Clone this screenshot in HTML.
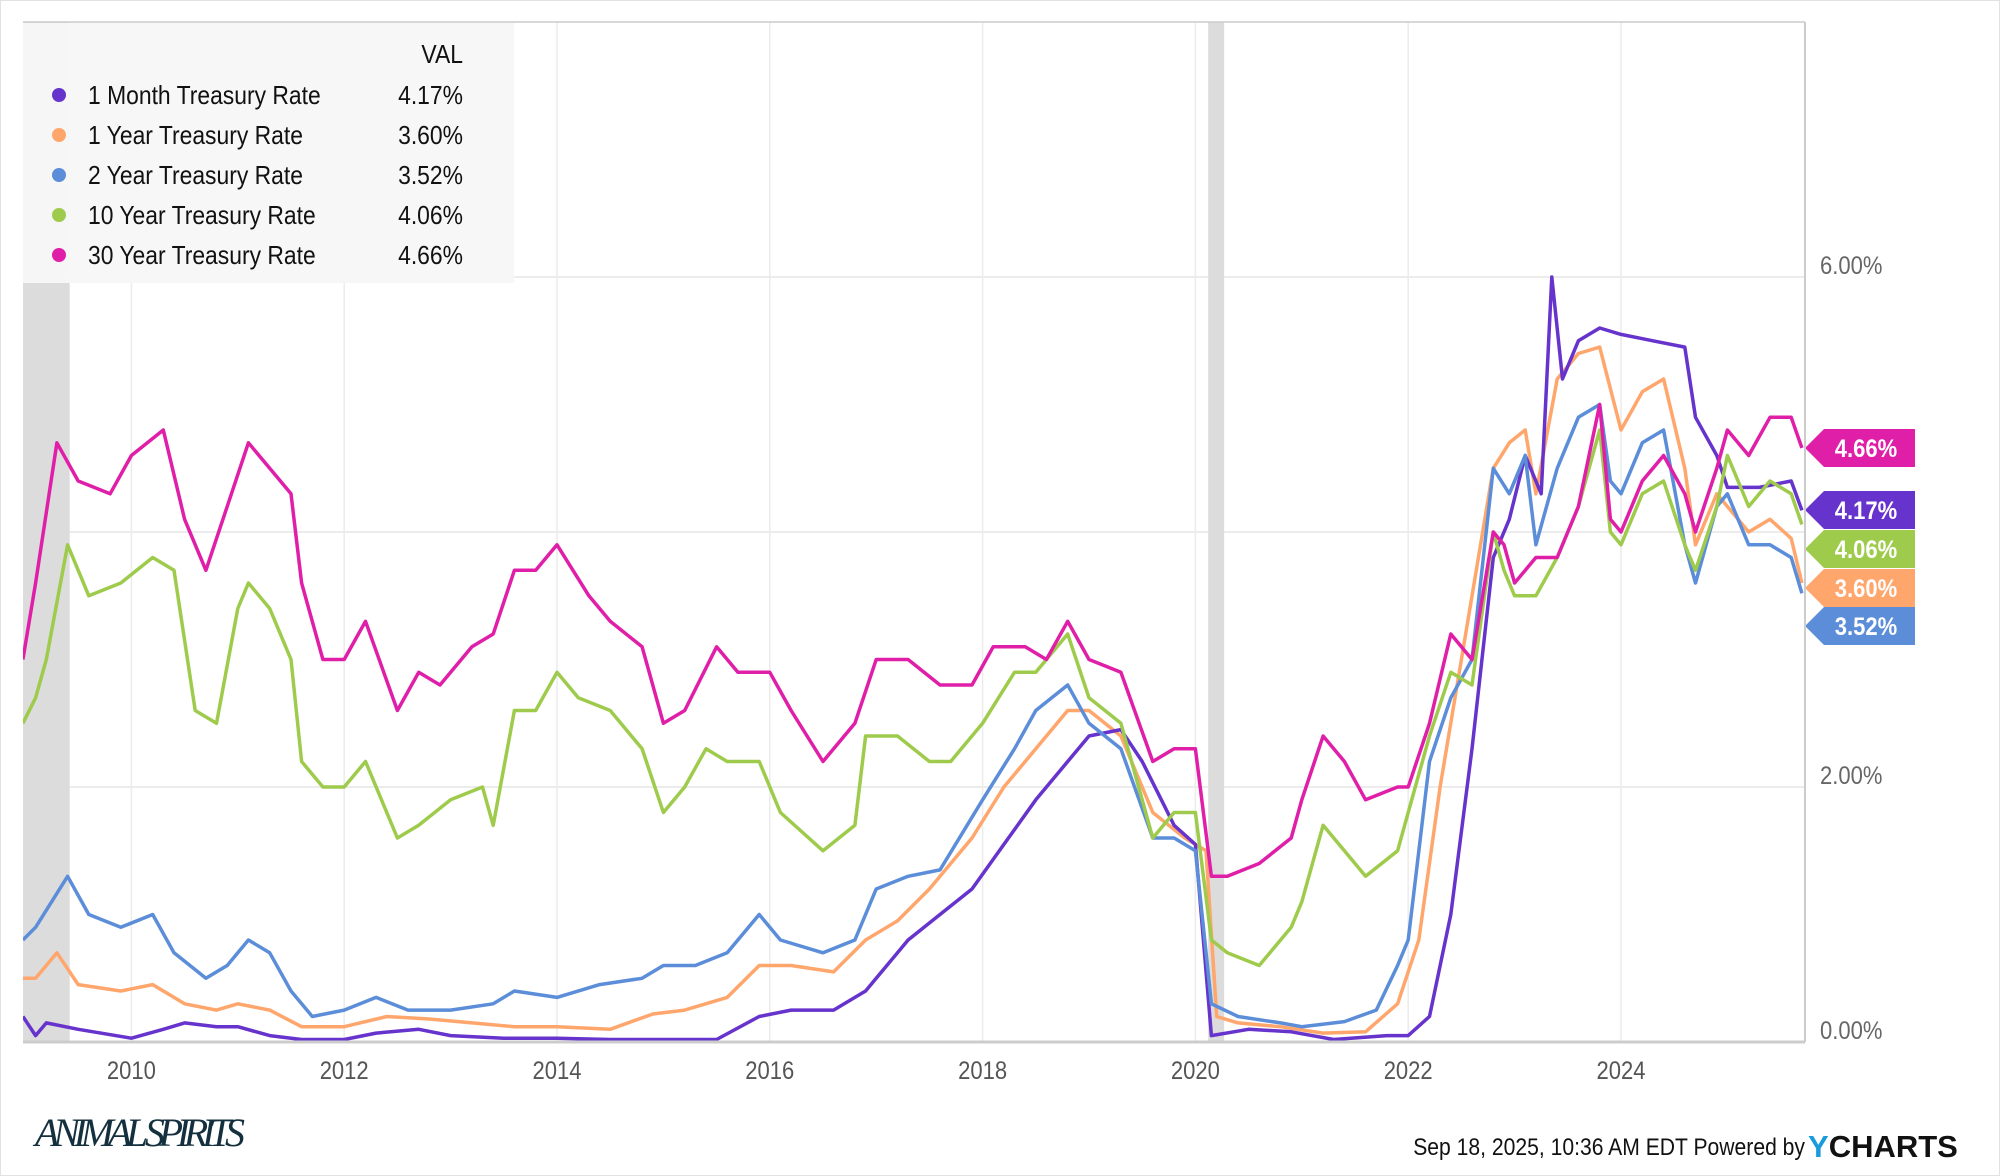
<!DOCTYPE html>
<html><head><meta charset="utf-8"><style>
body{margin:0;background:#fff}
svg{display:block;font-family:"Liberation Sans",sans-serif}
</style></head><body>
<svg id="c" width="2000" height="1176">
<defs><clipPath id="pc"><rect x="23" y="22" width="1782" height="1020"/></clipPath></defs>
<rect x="0.5" y="0.5" width="1999" height="1175" fill="#fff" stroke="#e2e2e2"/>
<g id="grid"></g>
<g id="rec"></g>
<g id="lines" clip-path="url(#pc)"></g>
<g id="legend"></g>
<g id="tags"></g>
<g id="axes"></g>
<text x="35" y="1146" font-size="40" font-style="italic" fill="#14303f" font-family="'Liberation Serif',serif" textLength="210">ANIMAL SPIRITS</text>
<text class="nar" x="1805" y="1155" font-size="24" fill="#111" text-anchor="end">Sep 18, 2025, 10:36 AM EDT Powered by</text>
<text x="1808" y="1157" font-size="31" font-weight="bold" fill="#111"><tspan fill="#1a9bdb">Y</tspan>CHARTS</text>
</svg>
<script>
const yearTicks=[2010,2012,2014,2016,2018,2020,2022,2024];
const yTicks=[0,2,4,6];
const seriesNames=["1 Month Treasury Rate","1 Year Treasury Rate","2 Year Treasury Rate","10 Year Treasury Rate","30 Year Treasury Rate"];
const seriesColors=["#6633cc","#ffa66d","#5b8dd9","#9fcb4d","#e01fa8"];
const lastValues=[4.17,3.60,3.52,4.06,4.66];
const recessions=[[2008.98,2009.42],[2020.12,2020.27]];
const m1T=[2008.98,2009.1,2009.2,2009.5,2010.0,2010.3,2010.5,2010.8,2011.0,2011.3,2011.6,2012.0,2012.3,2012.7,2013.0,2013.5,2014.0,2014.5,2015.0,2015.5,2015.9,2016.2,2016.6,2016.9,2017.0,2017.3,2017.6,2017.9,2018.2,2018.5,2018.8,2019.0,2019.3,2019.5,2019.8,2020.0,2020.15,2020.5,2020.9,2021.3,2021.8,2022.0,2022.2,2022.4,2022.6,2022.8,2022.95,2023.1,2023.25,2023.35,2023.45,2023.6,2023.8,2024.0,2024.3,2024.6,2024.7,2024.9,2025.0,2025.3,2025.6,2025.7];
const m1V=[0.2,0.05,0.15,0.1,0.03,0.1,0.15,0.12,0.12,0.05,0.02,0.02,0.07,0.1,0.05,0.03,0.03,0.02,0.02,0.02,0.2,0.25,0.25,0.4,0.5,0.8,1.0,1.2,1.55,1.9,2.2,2.4,2.45,2.2,1.7,1.55,0.05,0.1,0.08,0.02,0.05,0.05,0.2,1.0,2.3,3.8,4.1,4.6,4.3,6.0,5.2,5.5,5.6,5.55,5.5,5.45,4.9,4.6,4.35,4.35,4.4,4.17];
const y1T=[2008.98,2009.1,2009.3,2009.5,2009.9,2010.2,2010.5,2010.8,2011.0,2011.3,2011.6,2012.0,2012.4,2012.8,2013.2,2013.6,2014.0,2014.5,2014.9,2015.2,2015.6,2015.9,2016.2,2016.6,2016.9,2017.2,2017.5,2017.9,2018.2,2018.5,2018.8,2019.0,2019.3,2019.6,2019.9,2020.1,2020.2,2020.4,2020.8,2021.2,2021.6,2021.9,2022.1,2022.3,2022.5,2022.8,2022.95,2023.1,2023.2,2023.4,2023.6,2023.8,2024.0,2024.2,2024.4,2024.6,2024.7,2024.9,2025.0,2025.2,2025.4,2025.6,2025.7];
const y1V=[0.5,0.5,0.7,0.45,0.4,0.45,0.3,0.25,0.3,0.25,0.12,0.12,0.2,0.18,0.15,0.12,0.12,0.1,0.22,0.25,0.35,0.6,0.6,0.55,0.8,0.95,1.2,1.6,2.0,2.3,2.6,2.6,2.4,1.8,1.6,1.5,0.2,0.15,0.12,0.07,0.08,0.3,0.8,2.0,3.0,4.5,4.7,4.8,4.3,5.2,5.4,5.45,4.8,5.1,5.2,4.5,3.9,4.3,4.2,4.0,4.1,3.95,3.60];
const y2T=[2008.98,2009.1,2009.4,2009.6,2009.9,2010.2,2010.4,2010.7,2010.9,2011.1,2011.3,2011.5,2011.7,2012.0,2012.3,2012.6,2013.0,2013.4,2013.6,2014.0,2014.4,2014.8,2015.0,2015.3,2015.6,2015.9,2016.1,2016.5,2016.8,2017.0,2017.3,2017.6,2018.0,2018.3,2018.5,2018.8,2019.0,2019.3,2019.6,2019.8,2020.0,2020.15,2020.4,2020.8,2021.0,2021.4,2021.7,2021.9,2022.0,2022.2,2022.4,2022.6,2022.8,2022.95,2023.1,2023.2,2023.4,2023.6,2023.8,2023.9,2024.0,2024.2,2024.4,2024.6,2024.7,2024.9,2025.0,2025.2,2025.4,2025.6,2025.7];
const y2V=[0.8,0.9,1.3,1.0,0.9,1.0,0.7,0.5,0.6,0.8,0.7,0.4,0.2,0.25,0.35,0.25,0.25,0.3,0.4,0.35,0.45,0.5,0.6,0.6,0.7,1.0,0.8,0.7,0.8,1.2,1.3,1.35,1.9,2.3,2.6,2.8,2.5,2.3,1.6,1.6,1.5,0.3,0.2,0.15,0.12,0.16,0.25,0.6,0.8,2.2,2.7,3.0,4.5,4.3,4.6,3.9,4.5,4.9,5.0,4.4,4.3,4.7,4.8,3.9,3.6,4.2,4.3,3.9,3.9,3.8,3.52];
const y10T=[2008.98,2009.1,2009.2,2009.4,2009.6,2009.9,2010.2,2010.4,2010.6,2010.8,2011.0,2011.1,2011.3,2011.5,2011.6,2011.8,2012.0,2012.2,2012.5,2012.7,2013.0,2013.3,2013.4,2013.6,2013.8,2014.0,2014.2,2014.5,2014.8,2015.0,2015.2,2015.4,2015.6,2015.9,2016.1,2016.5,2016.8,2016.9,2017.2,2017.5,2017.7,2018.0,2018.3,2018.5,2018.8,2019.0,2019.3,2019.6,2019.8,2020.0,2020.15,2020.3,2020.6,2020.9,2021.0,2021.2,2021.4,2021.6,2021.9,2022.0,2022.2,2022.4,2022.6,2022.8,2022.9,2023.0,2023.2,2023.4,2023.6,2023.8,2023.9,2024.0,2024.2,2024.4,2024.6,2024.7,2024.9,2025.0,2025.2,2025.4,2025.6,2025.7];
const y10V=[2.5,2.7,3.0,3.9,3.5,3.6,3.8,3.7,2.6,2.5,3.4,3.6,3.4,3.0,2.2,2.0,2.0,2.2,1.6,1.7,1.9,2.0,1.7,2.6,2.6,2.9,2.7,2.6,2.3,1.8,2.0,2.3,2.2,2.2,1.8,1.5,1.7,2.4,2.4,2.2,2.2,2.5,2.9,2.9,3.2,2.7,2.5,1.6,1.8,1.8,0.8,0.7,0.6,0.9,1.1,1.7,1.5,1.3,1.5,1.8,2.4,2.9,2.8,4.0,3.7,3.5,3.5,3.8,4.2,4.8,4.0,3.9,4.3,4.4,3.9,3.7,4.2,4.6,4.2,4.4,4.3,4.06];
const y30T=[2008.98,2009.1,2009.3,2009.5,2009.8,2010.0,2010.3,2010.5,2010.7,2010.9,2011.1,2011.3,2011.5,2011.6,2011.8,2012.0,2012.2,2012.5,2012.7,2012.9,2013.2,2013.4,2013.6,2013.8,2014.0,2014.3,2014.5,2014.8,2015.0,2015.2,2015.5,2015.7,2016.0,2016.2,2016.5,2016.8,2017.0,2017.3,2017.6,2017.9,2018.1,2018.4,2018.6,2018.8,2019.0,2019.3,2019.6,2019.8,2020.0,2020.15,2020.3,2020.6,2020.9,2021.0,2021.2,2021.4,2021.6,2021.9,2022.0,2022.2,2022.4,2022.6,2022.8,2022.9,2023.0,2023.2,2023.4,2023.6,2023.8,2023.9,2024.0,2024.2,2024.4,2024.6,2024.7,2024.9,2025.0,2025.2,2025.4,2025.6,2025.7];
const y30V=[3.0,3.6,4.7,4.4,4.3,4.6,4.8,4.1,3.7,4.2,4.7,4.5,4.3,3.6,3.0,3.0,3.3,2.6,2.9,2.8,3.1,3.2,3.7,3.7,3.9,3.5,3.3,3.1,2.5,2.6,3.1,2.9,2.9,2.6,2.2,2.5,3.0,3.0,2.8,2.8,3.1,3.1,3.0,3.3,3.0,2.9,2.2,2.3,2.3,1.3,1.3,1.4,1.6,1.9,2.4,2.2,1.9,2.0,2.0,2.5,3.2,3.0,4.0,3.9,3.6,3.8,3.8,4.2,5.0,4.1,4.0,4.4,4.6,4.3,4.0,4.5,4.8,4.6,4.9,4.9,4.66];
const allT=[m1T,y1T,y2T,y10T,y30T], allV=[m1V,y1V,y2V,y10V,y30V];
const L=23,R=1805,T=22,B=1042;
const X=t=>131.4+(t-2010)*106.4;
const Y=v=>B-v*127.5;
const NS="http://www.w3.org/2000/svg";
function mk(p,tag,a){const e=document.createElementNS(NS,tag);for(const k in a)e.setAttribute(k,a[k]);p.appendChild(e);return e;}
const grid=document.getElementById('grid'),rec=document.getElementById('rec'),lines=document.getElementById('lines'),leg=document.getElementById('legend'),tags=document.getElementById('tags'),axes=document.getElementById('axes');
yTicks.forEach(v=>{
 const g=mk(grid,'line',{x1:L,x2:R,y1:Y(v),y2:Y(v),stroke:'#e6e6e6','stroke-width':1.5});
 
 
 if(v===4)return;
 const t=mk(axes,'text',{x:1820,y:Y(v)-3,'font-size':25,fill:'#666',class:'nar'});t.textContent=v.toFixed(2)+'%';
 
 
});
yearTicks.forEach(yr=>{
 const g=mk(grid,'line',{x1:X(yr),x2:X(yr),y1:T,y2:B,stroke:'#ececec','stroke-width':1.5});
 
 
 const t=mk(axes,'text',{x:X(yr),y:1079,'font-size':25,fill:'#555','text-anchor':'middle',class:'nar'});t.textContent=yr;
 
 
});
recessions.forEach(r=>{
 const e=mk(rec,'rect',{x:Math.max(L,X(r[0])),y:T,width:X(r[1])-Math.max(L,X(r[0])),height:B-T,fill:'#dcdcdc'});
 
 
});
const a1=mk(axes,'line',{x1:R,x2:R,y1:T,y2:B,stroke:'#ccc','stroke-width':2});


const a2=mk(axes,'line',{x1:L,x2:R,y1:B,y2:B,stroke:'#ccc','stroke-width':3});


const a3=mk(axes,'line',{x1:L,x2:R,y1:T,y2:T,stroke:'#ccc','stroke-width':1.5});


[1,0,2,3,4].forEach(i=>{
 const d=allT[i].map((t,j)=>(j?'L':'M')+X(t).toFixed(1)+','+Y(allV[i][j]).toFixed(1)).join('');
 const p=mk(lines,'path',{d:d,fill:'none',stroke:seriesColors[i],'stroke-width':3.5,'stroke-linejoin':'round'});
 
 
});
const lb=mk(leg,'rect',{x:23,y:23,width:491,height:260,fill:'#f7f7f7','fill-opacity':0.95});


const vh=mk(leg,'text',{x:463,y:63,'font-size':26,fill:'#111','text-anchor':'end',class:'nar'});vh.textContent='VAL';


seriesNames.forEach((n,i)=>{
 const y=95+i*40;
 const c=mk(leg,'circle',{cx:59,cy:y,r:7,fill:seriesColors[i]});
 
 
 const t=mk(leg,'text',{x:88,y:y+9,'font-size':26,fill:'#111',class:'nar'});t.textContent=n;
 
 
 const v=mk(leg,'text',{x:463,y:y+9,'font-size':26,fill:'#111','text-anchor':'end',class:'nar'});v.textContent=lastValues[i].toFixed(2)+'%';
 
 
});
const tagY=[510,588,626,549,448];
seriesNames.forEach((n,i)=>{
 const cy=tagY[i],h=38;
 const p=mk(tags,'path',{d:`M${R},${cy}L${R+19},${cy-h/2}L${R+110},${cy-h/2}L${R+110},${cy+h/2}L${R+19},${cy+h/2}Z`,fill:seriesColors[i]});
 
 
 const t=mk(tags,'text',{x:R+61,y:cy+9,'font-size':25,'font-weight':'bold',fill:'#fff','text-anchor':'middle',class:'nar'});t.textContent=lastValues[i].toFixed(2)+'%';
 
 
});
document.querySelectorAll('text.nar').forEach(t=>{
 const w=t.getComputedTextLength();
 t.setAttribute('textLength',(w*0.88).toFixed(1));
 t.setAttribute('lengthAdjust','spacingAndGlyphs');
});
</script>
</body></html>
